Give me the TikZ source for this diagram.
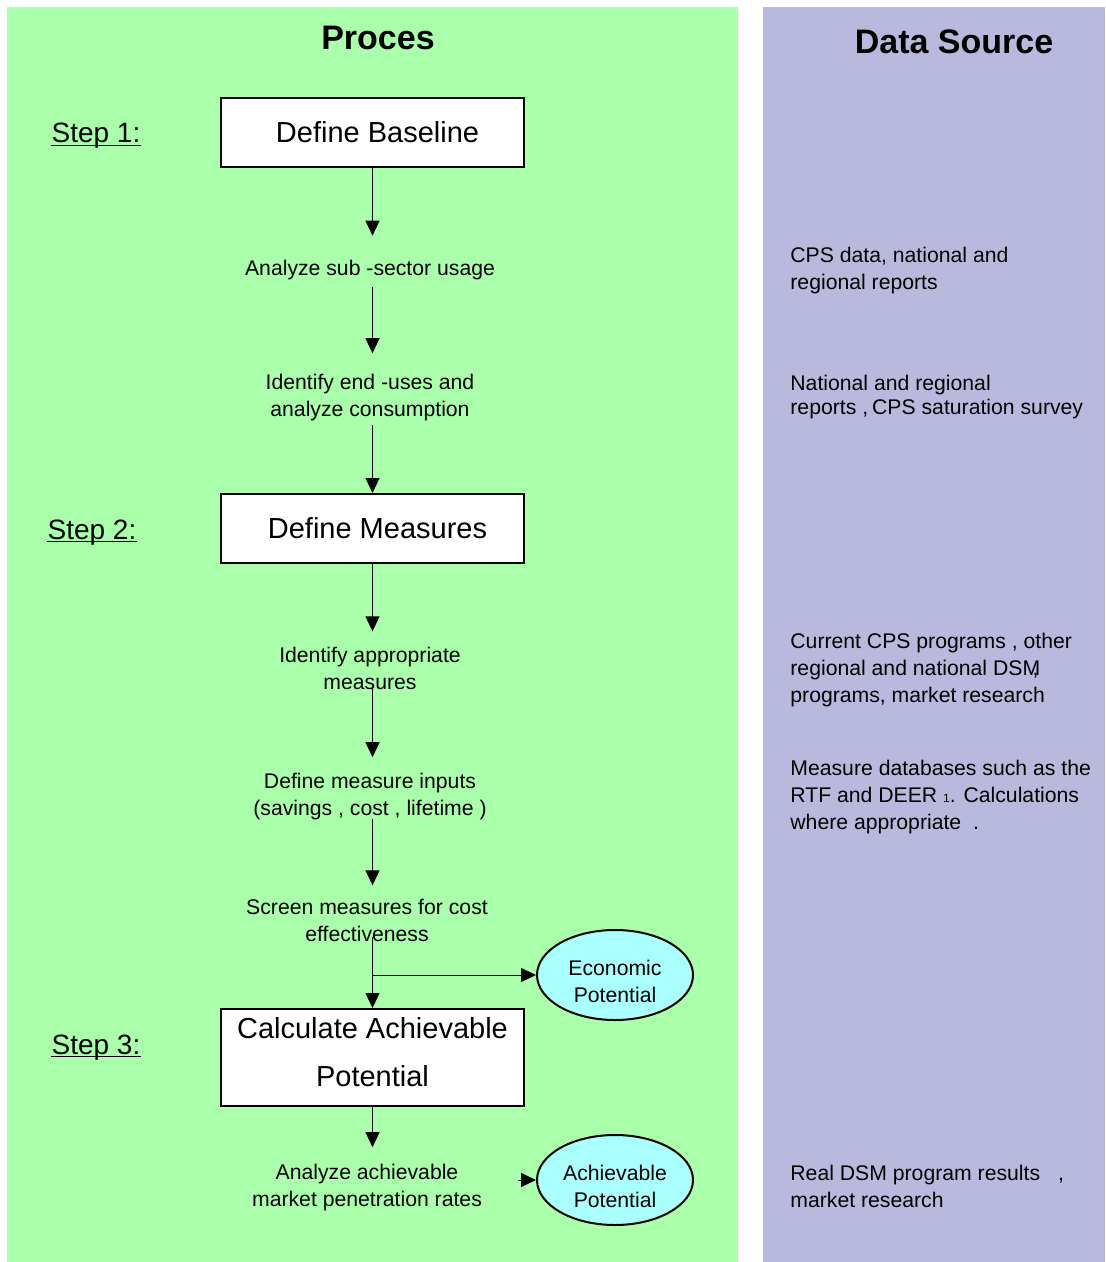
\documentclass[tikz,border=0pt]{standalone}
\usepackage{fontspec}
\setmainfont{Liberation Sans}
\usetikzlibrary{arrows.meta,shapes.geometric}
\definecolor{procgreen}{RGB}{170,255,170}
\definecolor{sourceblue}{RGB}{185,185,221}
\definecolor{potcyan}{RGB}{170,255,255}

\begin{document}
\begin{tikzpicture}[x=0.5pt, y=-0.5pt,
  stepbox/.style={draw=black, line width=1pt, fill=white,
    minimum width=151.5pt, minimum height=34.5pt, inner sep=0pt,
    align=center, font=\fontsize{14.5}{24}\selectfont},
  boxtext/.style={inner sep=0pt, align=center, font=\fontsize{14.5}{24}\selectfont},
  task/.style={inner sep=0pt, align=center,
    font=\fontsize{10.6}{13.5}\selectfont},
  source/.style={inner sep=0pt, anchor=north west, align=left,
    font=\fontsize{10.6}{13.5}\selectfont},
  potential/.style={ellipse, draw=black, line width=1pt, fill=potcyan,
    minimum width=78pt, minimum height=45pt, inner sep=0pt},
  pottext/.style={inner sep=0pt, align=center,
    font=\fontsize{10.6}{13.5}\selectfont},
  steplabel/.style={inner sep=0pt, anchor=base, font=\fontsize{14}{16}\selectfont},
  title/.style={inner sep=0pt, font=\fontsize{17}{20}\selectfont\bfseries},
  flow/.style={-{Triangle[width=7pt,length=7.5pt]}, line width=0.5pt}
]
  \useasboundingbox (0,0) rectangle (1105,1262);
  \fill[white] (0,0) rectangle (1105,1262);

  % Panels
  \fill[procgreen] (7,7) rectangle (738,1262);
  \fill[sourceblue] (763,7) rectangle (1105,1262);
  \node[title] (proces) at (378,38) {Proces};
  \node[title] (datasrc) at (954,42) {Data Source};

  % Steps
  \foreach \n/\x/\y in {1/96/143, 2/92/539, 3/96/1054}{
    \node[steplabel] (step\n) at (\x,\y) {Step \n:};
    \draw[line width=0.6pt] ([yshift=-1.2pt]step\n.base west)
      -- ([yshift=-1.2pt]step\n.base east);
  }
  \node[stepbox] (baseline) at (372.5,132.5) {\hspace*{5pt}Define Baseline};
  \node[stepbox] (measures) at (372.5,528.5) {\hspace*{5pt}Define Measures};
  \node[stepbox, minimum height=48.5pt] (achieve) at (372.5,1057.5) {};
  \node[boxtext] (achievetext) at ([yshift=2.5pt]achieve.center)
    {Calculate Achievable\\Potential};

  % Tasks
  \node[task] (subsector) at (370,270) {Analyze sub -sector usage};
  \node[task] (enduses) at (370,398) {Identify end -uses and\\analyze consumption};
  \node[task] (approp) at (370,668) {Identify appropriate\\measures};
  \node[task] (inputs) at (370,797) {Define measure inputs\\(savings , cost , lifetime )};
  \node[task] (screen) at (367,920) {Screen measures for cost\\effectiveness};
  \node[task] (penetr) at (367,1188) {Analyze achievable\\market penetration rates};

  % Flow down the middle
  \foreach \a/\b/\s/\e in {baseline/subsector/0/12, subsector/enduses/3.5/10.5,
    enduses/measures/1.75/0, measures/approp/0/7.5, approp/inputs/-2.75/8,
    inputs/screen/-0.75/6.5, screen/achieve/-2.25/0, achieve/penetr/0/8.5}{
    \draw[flow, shorten <=\s pt, shorten >=\e pt]
      (\a.south -| baseline.south) -- (\b.north -| baseline.south);
  }

  % Potentials
  \node[potential] (econ) at (615,975) {};
  \node[potential] (achv) at (615,1180) {};
  \node[pottext] (econtext) at ([yshift=-3pt]econ.center) {Economic\\Potential};
  \node[pottext] (achvtext) at ([yshift=-3pt]achv.center) {Achievable\\Potential};
  \coordinate (split) at (373,975);
  \coordinate (achvin) at (518,1180);
  \draw[flow] (split) -- (econ.west);
  \draw[flow] (achvin) -- (achv.west);

  % Data sources
  \node[source] (srccps) at (790,246.5) {CPS data, national and\\regional reports};
  \node[source] (srcreports) at (790,374.5)
    {National and regional\\[-1.5pt]reports ,\hspace{2pt}CPS saturation survey};
  \node[source] (srcprograms) at (790,632.5)
    {Current CPS programs , other\\regional and national DS\rlap{M}\hspace{5pt},\\programs, market research};
  \node[source] (srcdatabases) at (790,759.5)
    {Measure databases such as the\\RTF and DEER {\fontsize{6}{6}\selectfont 1}. Calculations\\where appropriate\hspace{3pt} .};
  \node[source] (srcresults) at (790,1164.5) {Real DSM program results\hspace{6pt} ,\\market research};
\end{tikzpicture}
\end{document}
